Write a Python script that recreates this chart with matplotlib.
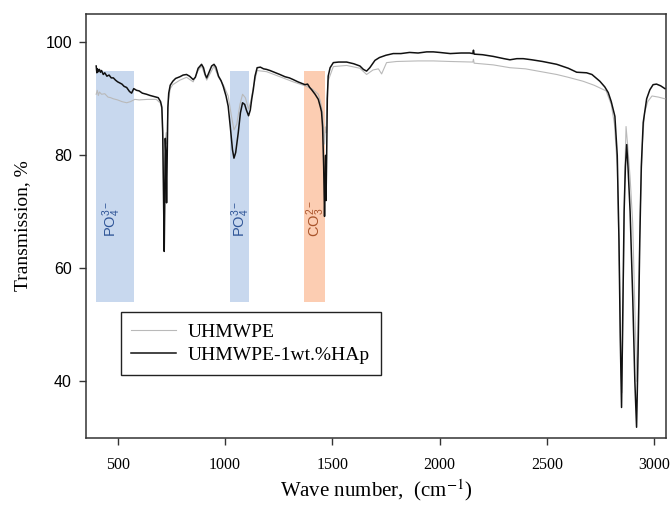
import numpy as np
import matplotlib
matplotlib.use("Agg")
import matplotlib.pyplot as plt

# FTIR spectra (wave number, transmission %)
wn_pe = [400, 405, 410, 415, 425, 440, 455, 467, 480, 500, 520, 542, 560, 580, 600, 640, 680,
         700, 706, 710, 714, 717, 719, 722, 726, 729, 732, 736, 745, 757, 790, 821, 852, 875,
         891, 915, 949, 970, 992, 1015, 1030, 1042, 1055, 1070, 1082, 1095, 1110, 1120, 1132,
         1150, 1194, 1256, 1318, 1373, 1404, 1420, 1435, 1445, 1455, 1460, 1464, 1468, 1471,
         1475, 1481, 1505, 1567, 1629, 1660, 1690, 1715, 1730, 1753, 1800, 1900, 1971, 2050,
         2155, 2158, 2161, 2250, 2328, 2400, 2546, 2600, 2669, 2720, 2776, 2800, 2815, 2828,
         2838, 2845, 2850, 2856, 2862, 2869, 2876, 2888, 2900, 2912, 2920, 2928, 2935, 2945,
         2955, 2970, 2990, 3020, 3050]
tr_pe = [90.8, 91.5, 90.6, 91.2, 90.8, 90.9, 90.3, 90.2, 90.0, 89.8, 89.5, 89.3, 89.5, 89.9,
         89.8, 89.9, 89.9, 89.2, 88.0, 84.0, 75.0, 65.0, 72.0, 82.0, 84.0, 82.0, 86.0, 89.5,
         91.8, 92.5, 93.3, 93.8, 93.0, 95.0, 95.8, 93.3, 95.8, 93.8, 92.5, 90.5, 87.0, 84.5,
         85.5, 89.0, 90.8, 90.2, 88.2, 89.5, 92.0, 95.0, 94.8, 93.9, 93.0, 92.3, 91.8, 91.3,
         90.8, 89.5, 87.5, 84.0, 82.0, 85.0, 84.0, 90.0, 93.2, 95.7, 95.9, 95.4, 94.3, 95.1,
         95.3, 94.4, 96.4, 96.6, 96.7, 96.7, 96.6, 96.5, 97.0, 96.3, 96.0, 95.5, 95.3, 94.3,
         93.8, 93.1, 92.4, 91.4, 89.0, 85.5, 78.0, 60.0, 42.0, 38.0, 55.0, 75.0, 85.1, 82.0,
         76.0, 68.0, 50.0, 40.0, 55.0, 70.0, 82.0, 87.5, 89.5, 90.5, 90.3, 90.0]

wn_hap = [400, 403, 406, 410, 415, 420, 425, 433, 440, 450, 460, 470, 480, 490, 500, 510, 520,
          530, 542, 555, 565, 575, 588, 600, 615, 635, 650, 670, 689, 700, 706, 710, 714, 717,
          719, 722, 725, 728, 731, 734, 738, 745, 757, 770, 790, 805, 821, 835, 852, 862, 875,
          891, 900, 908, 915, 925, 938, 949, 958, 970, 982, 992, 1005, 1015, 1025, 1035, 1042,
          1050, 1062, 1072, 1082, 1092, 1100, 1110, 1118, 1125, 1132, 1140, 1150, 1165, 1180,
          1194, 1210, 1230, 1256, 1280, 1300, 1318, 1340, 1360, 1373, 1385, 1395, 1404, 1420,
          1435, 1445, 1450, 1455, 1460, 1464, 1467, 1469, 1471, 1474, 1477, 1481, 1490, 1505,
          1530, 1567, 1600, 1629, 1645, 1660, 1675, 1699, 1720, 1750, 1784, 1820, 1860, 1900,
          1940, 1971, 2000, 2050, 2100, 2140, 2155, 2158, 2161, 2200, 2250, 2300, 2328, 2360,
          2390, 2430, 2480, 2546, 2600, 2639, 2685, 2710, 2747, 2770, 2786, 2800, 2817, 2828,
          2836, 2842, 2848, 2853, 2860, 2866, 2872, 2878, 2888, 2900, 2910, 2918, 2925, 2933,
          2940, 2949, 2965, 2980, 2995, 3011, 3030, 3050]
tr_hap = [95.8, 94.6, 95.3, 94.8, 95.2, 94.7, 95.0, 94.3, 94.6, 94.0, 94.2, 93.7, 93.7, 93.3,
          93.0, 92.8, 92.6, 92.2, 92.0, 91.3, 91.0, 91.8, 91.5, 91.4, 91.0, 90.8, 90.6, 90.4,
          90.2, 89.5, 88.5, 84.0, 72.0, 63.0, 70.0, 83.0, 80.0, 71.6, 80.0, 88.5, 91.0, 92.4,
          93.1, 93.6, 93.9, 94.2, 94.3, 94.0, 93.4, 93.8, 95.4, 96.1, 95.5, 94.3, 93.7, 94.6,
          95.8, 96.1, 95.6, 94.0, 93.2, 92.2, 90.5, 88.7, 85.0, 81.0, 79.5, 80.5, 84.0, 87.5,
          89.3, 89.0, 88.0, 87.0, 88.0, 90.0, 91.6, 94.0, 95.5, 95.6, 95.3, 95.2, 95.0, 94.7,
          94.3, 93.9, 93.7, 93.4, 93.0, 92.7, 92.5, 92.6, 92.0, 91.6, 90.8, 89.9, 88.5, 87.7,
          85.0, 78.0, 69.2, 75.0, 80.0, 72.0, 80.0, 90.0, 94.0, 95.5, 96.4, 96.5, 96.5, 96.2,
          95.8, 95.2, 94.9, 95.5, 96.8, 97.3, 97.7, 98.0, 98.0, 98.2, 98.1, 98.3, 98.3, 98.2,
          98.0, 98.1, 98.1, 98.0, 98.6, 97.9, 97.8, 97.5, 97.1, 96.9, 97.1, 97.1, 96.9, 96.6,
          96.1, 95.4, 94.7, 94.6, 94.3, 93.1, 92.1, 91.1, 89.5, 86.9, 80.0, 65.0, 48.0, 35.4,
          50.0, 70.0, 78.0, 81.9, 78.0, 70.0, 55.0, 40.0, 31.9, 45.0, 65.0, 78.0, 85.8, 90.0,
          91.6, 92.5, 92.6, 92.3, 91.8]

# highlighted absorption bands
band_lo = [400, 1025, 1370]
band_hi = [574, 1114, 1468]
band_labels = [r'PO$_4^{3-}$', r'PO$_4^{3-}$', r'CO$_3^{2-}$']
band_colors = ['#c8d8ee', '#c8d8ee', '#fccdb2']
text_colors = ['#2f5597', '#2f5597', '#a9542b']
label_x = [472, 1072, 1422]
band_bottom, band_top = 54, 95

plt.rcParams['mathtext.fontset'] = 'custom'
plt.rcParams['mathtext.rm'] = 'Liberation Sans'
plt.rcParams['mathtext.it'] = 'Liberation Sans:italic'

fig = plt.figure(figsize=(6.71, 5.09), dpi=100)
ax = fig.add_axes([0.128, 0.1395, 0.8645, 0.833])

for lo, hi, c in zip(band_lo, band_hi, band_colors):
    ax.fill_between([lo, hi], band_bottom, band_top, color=c, lw=0, zorder=1)
for x, lab, tc in zip(label_x, band_labels, text_colors):
    ax.text(x, 68.8, lab, rotation=90, ha='center', va='center', color=tc,
            fontsize=10.5, family='Liberation Sans', zorder=2)

ax.plot(wn_pe, tr_pe, color='#b9b9b9', lw=0.8, label='UHMWPE', zorder=3)
ax.plot(wn_hap, tr_hap, color='#111111', lw=1.1, label='UHMWPE-1wt.%HAp', zorder=4)

ax.set_xlim(352, 3055)
ax.set_ylim(30, 105)
ax.set_xticks([500, 1000, 1500, 2000, 2500, 3000])
ax.set_yticks([40, 60, 80, 100])

for s in ax.spines.values():
    s.set_color('#333333')
    s.set_linewidth(1.1)
ax.tick_params(direction='out', length=5, width=1, color='#333333')
ax.tick_params(axis='x', pad=9)
ax.tick_params(axis='y', pad=5)
for t in ax.get_xticklabels():
    t.set_family('Liberation Serif')
    t.set_fontsize(11.5)
for t in ax.get_yticklabels():
    t.set_family('Liberation Sans')
    t.set_fontsize(11.5)

xl = ax.set_xlabel('Wave number,  (cm$^{-1}$)', family='Liberation Serif',
                   fontsize=15, labelpad=3)
xl.set_math_fontfamily('stix')
ax.set_ylabel('Transmission, %', family='Liberation Serif', fontsize=14, labelpad=10)

leg = ax.legend(loc='lower left', bbox_to_anchor=(0.06, 0.149), prop={'family': 'Liberation Serif', 'size': 14},
                frameon=True, fancybox=False, edgecolor='#222222', framealpha=1,
                borderpad=0.55, labelspacing=0.3, handlelength=2.3, handletextpad=0.6,
                borderaxespad=0)
leg.get_frame().set_linewidth(1.0)

fig.savefig('out.png', dpi=100)
